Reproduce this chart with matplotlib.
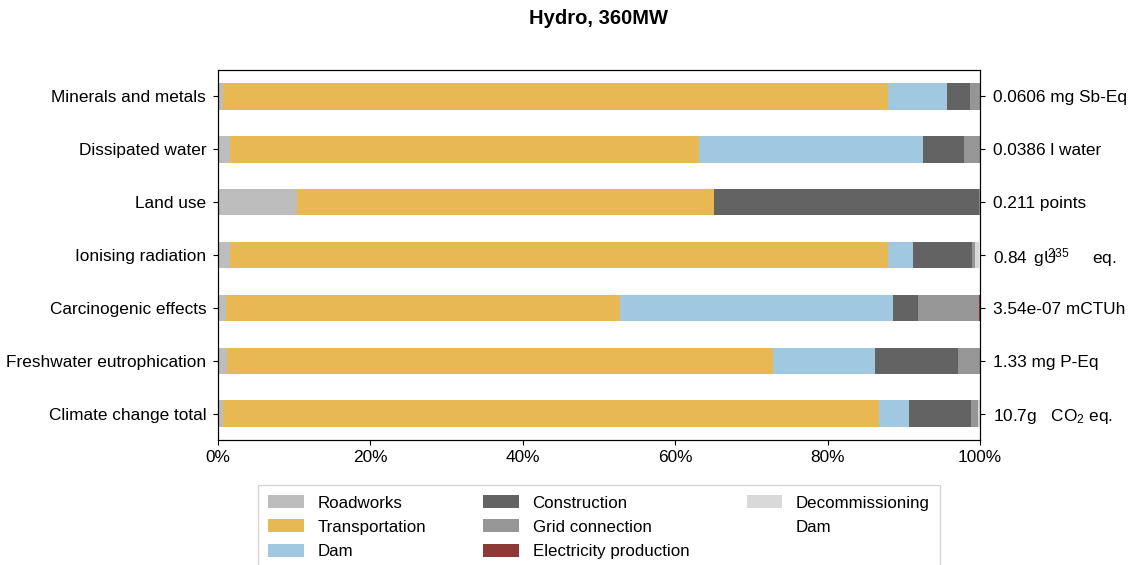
import matplotlib
matplotlib.use("Agg")
import matplotlib.pyplot as plt
import numpy as np

plt.rcParams["font.family"] = ["Liberation Sans", "DejaVu Sans"]
plt.rcParams["mathtext.fontset"] = "custom"
plt.rcParams["mathtext.rm"] = "Liberation Sans"
plt.rcParams["mathtext.it"] = "Liberation Sans"

categories = ["Climate change total", "Freshwater eutrophication", "Carcinogenic effects",
              "Ionising radiation", "Land use", "Dissipated water", "Minerals and metals"]
units = ["10.7g   CO$_2$ eq.", "1.33 mg P-Eq", "3.54e-07 mCTUh",
         "0.84 $\\,$gU$^{\\!\\!\\!\\!\\!235}$     eq.", "0.211 points", "0.0386 l water",
         "0.0606 mg Sb-Eq"]

# shares in percent, bottom row first
roadworks      = [0.7, 1.2, 1.0, 1.6, 10.4, 1.6, 0.7]
transportation = [86.0, 71.6, 51.8, 86.3, 54.7, 61.5, 87.2]
dam            = [4.0, 13.4, 35.8, 3.3, 0.0, 29.4, 7.8]
construction   = [8.1, 10.9, 3.3, 7.7, 34.8, 5.4, 3.0]
grid           = [0.9, 2.9, 8.0, 0.4, 0.1, 2.1, 1.3]
electricity    = [0.0, 0.0, 0.1, 0.1, 0.0, 0.0, 0.0]
decommission   = [0.3, 0.0, 0.0, 0.5, 0.0, 0.0, 0.0]
dam_removal    = [0.0, 0.0, 0.0, 0.1, 0.0, 0.0, 0.0]

series = [
    ("Roadworks", roadworks, "#bdbdbd"),
    ("Transportation", transportation, "#e8b952"),
    ("Dam", dam, "#a0c8e0"),
    ("Construction", construction, "#636363"),
    ("Grid connection", grid, "#969696"),
    ("Electricity production", electricity, "#8b3a36"),
    ("Decommissioning", decommission, "#d9d9d9"),
    ("Dam", dam_removal, "#ffffff"),
]

fig = plt.figure(figsize=(11.31, 5.65), dpi=100)
ax = fig.add_axes([0.1927, 0.2212, 0.6738, 0.6548])

y = np.arange(len(categories))
left = np.zeros(len(categories))
handles = []
for name, vals, color in series:
    vals = np.array(vals) / 100.0
    h = ax.barh(y, vals, 0.5, left=left, color=color, label=name)
    handles.append(h)
    left += vals

ax.set_xlim(0, 1)
ax.set_ylim(-0.5, 6.5)
ax.set_yticks(y)
ax.set_yticklabels(categories, fontsize=12.4)
ax.set_xticks(np.linspace(0, 1, 6))
ax.set_xticklabels([f"{int(v*100)}%" for v in np.linspace(0, 1, 6)], fontsize=12.4)
ax.tick_params(axis="y", pad=5)

ax2 = ax.twinx()
ax2.set_ylim(ax.get_ylim())
ax2.set_yticks(y)
ax2.set_yticklabels(units, fontsize=12.4)
ax2.tick_params(axis="y", pad=6)

ax.set_title("Hydro, 360MW", fontsize=14.5, fontweight="bold", pad=33)

ax.legend(handles=handles, loc="upper center", bbox_to_anchor=(0.5, -0.098),
          ncol=3, fontsize=12.2, frameon=True, fancybox=False, edgecolor="#cccccc",
          handlelength=2.1, handleheight=0.8, columnspacing=3.4, borderpad=0.62,
          labelspacing=0.52)

fig.savefig("out.png", dpi=100)
